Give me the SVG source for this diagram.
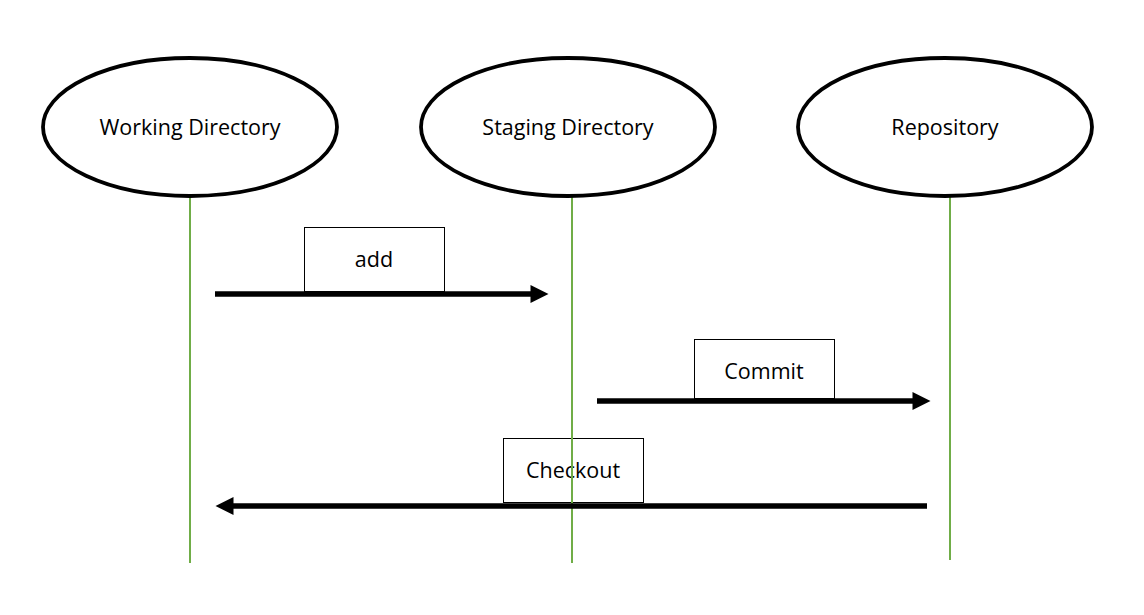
<svg xmlns="http://www.w3.org/2000/svg" width="1144" height="615" viewBox="0 0 1144 615">
<style>
.node ellipse{fill:#fff;stroke:#000;stroke-width:3.8}
.lbl{fill:#fff;stroke:#000;stroke-width:1}
text{font-family:"Open Sans","Liberation Sans",sans-serif;font-size:21.5px;fill:#000;text-anchor:middle;dominant-baseline:central}
.life{stroke:#70ad47;stroke-width:2}
.msg{stroke:#000;stroke-width:5.5;fill:none}
</style>
<defs>
<marker id="ah" markerUnits="userSpaceOnUse" markerWidth="20" markerHeight="20" refX="0.5" refY="9" orient="auto" overflow="visible">
<path d="M0,0 L18,9 L0,18 Z" fill="#000"/>
</marker>
</defs>
<rect width="1144" height="615" fill="#fff"/>
<g id="lifelines">
<line class="life" x1="190" y1="197" x2="190" y2="563"/>
<line class="life" x1="572" y1="197" x2="572" y2="563"/>
<line class="life" x1="950" y1="197" x2="950" y2="560"/>
</g>
<g id="n-working" class="node"><ellipse cx="190" cy="127" rx="147" ry="69"/><text x="190" y="126">Working Directory</text></g>
<g id="n-staging" class="node"><ellipse cx="568" cy="127" rx="147" ry="69"/><text x="568" y="126">Staging Directory</text></g>
<g id="n-repo" class="node"><ellipse cx="945" cy="127" rx="147" ry="69"/><text x="945" y="126">Repository</text></g>
<g id="connectors">
<line class="msg" x1="215" y1="294" x2="531" y2="294" marker-end="url(#ah)"/>
<line class="msg" x1="597" y1="401" x2="913" y2="401" marker-end="url(#ah)"/>
<line class="msg" x1="927" y1="506" x2="233" y2="506" marker-end="url(#ah)"/>
</g>
<g id="l-add"><rect class="lbl" x="304.5" y="227.5" width="140" height="64"/><text x="374" y="258">add</text></g>
<g id="l-commit"><rect class="lbl" x="694.5" y="339.5" width="140" height="59"/><text x="764" y="370">Commit</text></g>
<g id="l-checkout"><rect class="lbl" x="503.5" y="438.5" width="140" height="64"/><text x="573" y="469">Checkout</text></g>
<line class="life" x1="572" y1="438" x2="572" y2="503"/>
</svg>
